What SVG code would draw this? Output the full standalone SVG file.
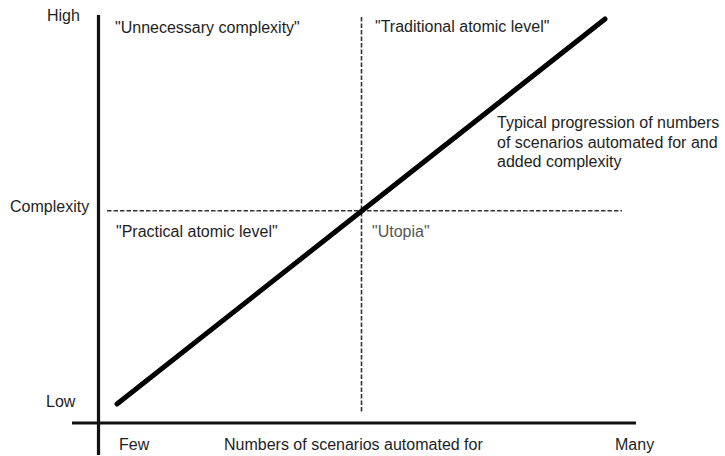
<svg xmlns="http://www.w3.org/2000/svg" width="725" height="456" viewBox="0 0 725 456">
  <style>
    text { font-family: "Liberation Sans", Arial, sans-serif; font-size: 16px; fill: #1e1e1e; }
    .grey { fill: #555; }
    .axis { stroke: #111; stroke-width: 3.2; fill: none; }
    .dash { stroke: #333; stroke-width: 1.6; stroke-dasharray: 4.5 2; fill: none; }
    .trend { stroke: #000; stroke-width: 5; stroke-linecap: round; fill: none; }
  </style>
  <rect width="725" height="456" fill="#fff"/>
  <g id="connectors">
    <line class="axis" x1="98.5" y1="15" x2="98.5" y2="455"/>
    <line class="axis" x1="72" y1="423" x2="636" y2="423"/>
    <line class="dash" x1="107" y1="210.7" x2="622" y2="210.7"/>
    <line class="dash" x1="361.5" y1="17" x2="361.5" y2="412"/>
    <line class="trend" x1="117" y1="404" x2="605" y2="19"/>
  </g>
  <g id="y-labels">
    <text x="47" y="21">High</text>
    <text x="10" y="212">Complexity</text>
    <text x="46" y="407">Low</text>
  </g>
  <g id="x-labels">
    <text x="119" y="450">Few</text>
    <text x="224" y="450">Numbers of scenarios automated for</text>
    <text x="615" y="450">Many</text>
  </g>
  <g id="quadrant-unnecessary"><text x="115" y="33">"Unnecessary complexity"</text></g>
  <g id="quadrant-traditional"><text x="375" y="32">"Traditional atomic level"</text></g>
  <g id="quadrant-practical"><text x="116" y="237">"Practical atomic level"</text></g>
  <g id="quadrant-utopia"><text class="grey" x="372" y="237">"Utopia"</text></g>
  <g id="trend-label">
    <text x="497" y="128">Typical progression of numbers</text>
    <text x="497" y="147.5">of scenarios automated for and</text>
    <text x="497" y="167">added complexity</text>
  </g>
</svg>
